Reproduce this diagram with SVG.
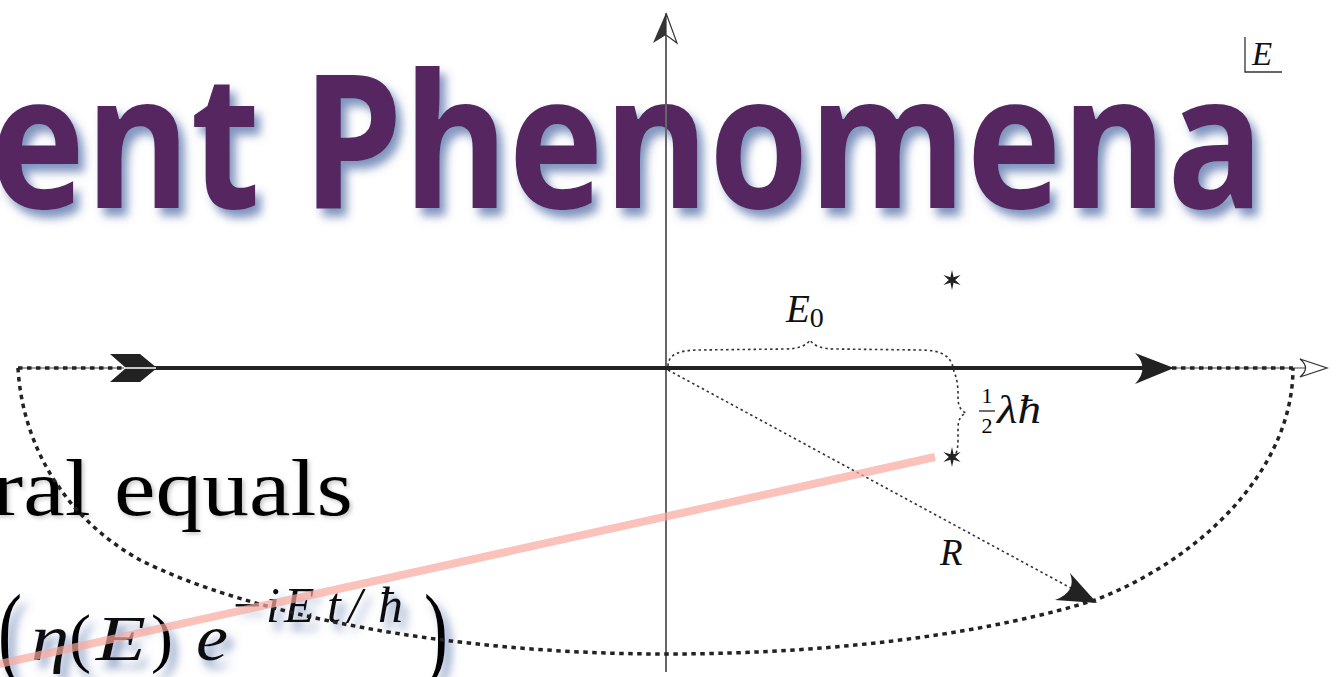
<svg xmlns="http://www.w3.org/2000/svg" width="1340" height="677" viewBox="0 0 1340 677">
<defs>
<style>
.title{font-family:"Open Sans","Liberation Sans",sans-serif;font-weight:bold;font-size:186px;fill:#54265f}
.body{font-family:"Liberation Serif","DejaVu Serif",serif;fill:#000}
.math{font-family:"Liberation Serif","DejaVu Serif",serif;font-style:italic;fill:#111}
.up{font-style:normal}
.dot{fill:none;stroke:#222;stroke-width:3.5;stroke-dasharray:4.5 4.5}
.fine{fill:none;stroke:#333;stroke-width:1.6;stroke-dasharray:2.5 3}
</style>
<filter id="sh" x="-10%" y="-20%" width="120%" height="150%">
<feGaussianBlur in="SourceAlpha" stdDeviation="5"/>
<feOffset dx="6" dy="8" result="b"/>
<feFlood flood-color="#5470a8" flood-opacity="0.75"/>
<feComposite in2="b" operator="in" result="s"/>
<feMerge><feMergeNode in="s"/><feMergeNode in="SourceGraphic"/></feMerge>
</filter>
<filter id="sh2" x="-10%" y="-20%" width="120%" height="150%">
<feGaussianBlur in="SourceAlpha" stdDeviation="2"/>
<feOffset dx="2" dy="2" result="b"/>
<feFlood flood-color="#888" flood-opacity="0.5"/>
<feComposite in2="b" operator="in" result="s"/>
<feMerge><feMergeNode in="s"/><feMergeNode in="SourceGraphic"/></feMerge>
</filter>
<path id="star" d="M0,-10 L1.6,-2.8 L8.7,-5 L3.2,0 L8.7,5 L1.6,2.8 L0,10 L-1.6,2.8 L-8.7,5 L-3.2,0 L-8.7,-5 L-1.6,-2.8 Z" fill="#222"/>
</defs>
<rect width="1340" height="677" fill="#fff"/>

<g id="slide-text">
<text class="title" x="-10" y="208" textLength="1274" lengthAdjust="spacingAndGlyphs" filter="url(#sh)">ent Phenomena</text>
<text class="body" x="-8" y="515" font-size="80" textLength="361" lengthAdjust="spacingAndGlyphs" filter="url(#sh2)">ral equals</text>
<g id="equation" filter="url(#sh)">
<text class="body" x="-2" y="666" font-size="104" textLength="24" lengthAdjust="spacingAndGlyphs">(</text>
<text class="math" x="31" y="660" font-size="66" textLength="38" lengthAdjust="spacingAndGlyphs">η</text>
<text class="body" x="69" y="660" font-size="66" textLength="22" lengthAdjust="spacingAndGlyphs">(</text>
<text class="math" x="96" y="660" font-size="64" textLength="50" lengthAdjust="spacingAndGlyphs">E</text>
<text class="body" x="151" y="660" font-size="66" textLength="22" lengthAdjust="spacingAndGlyphs">)</text>
<text class="math" x="196" y="660" font-size="66" textLength="32" lengthAdjust="spacingAndGlyphs">e</text>
<text class="math" y="622" font-size="50"><tspan class="up" x="233">−</tspan><tspan x="266">i</tspan><tspan x="284">E</tspan><tspan x="327">t</tspan><tspan x="348">/</tspan><tspan x="378">ħ</tspan></text>
<text class="body" x="424" y="666" font-size="104" textLength="24" lengthAdjust="spacingAndGlyphs">)</text>
</g>
</g>

<g id="connectors">
<line x1="18" y1="368" x2="1324" y2="368" stroke="#444" stroke-width="1.2"/>
<line x1="666" y1="672" x2="666" y2="30" stroke="#666" stroke-width="2"/>
<path class="dot" d="M18,368 C22,440 60,515 140,560 C250,615 450,654 666,654 C850,654 1000,630 1095,600 C1200,560 1293,470 1293,368"/>
<line class="dot" x1="18" y1="368" x2="150" y2="368"/>
<line class="dot" x1="1172" y1="368" x2="1293" y2="368"/>
<line x1="150" y1="368" x2="1150" y2="368" stroke="#222" stroke-width="4"/>
<path d="M110,354 L140,354 L157,368 L140,382 L110,382 L126,368 Z" fill="#222"/>
<line x1="124" y1="368" x2="156" y2="368" stroke="#fff" stroke-width="1.5"/>
<path d="M1174,368 L1135,353 Q1150,368 1135,384 Z" fill="#222"/>
<path d="M1300,359 L1327,368 L1300,377 Q1311,368 1300,359 Z" fill="#fff" stroke="#333" stroke-width="1.3"/>
<path d="M666,13 L653,43 L666,35 Z" fill="#333"/>
<path d="M666,13 L677,43 L666,35 Z" fill="#fff" stroke="#333" stroke-width="1.2"/>
<line class="fine" x1="668" y1="370" x2="1080" y2="593"/>
<path d="M1097,603 L1070,573 Q1077,592 1055,600 Z" fill="#222"/>
<path class="fine" d="M668,366 C668,354 680,350 700,350 L785,349 C798,349 806,346 810,340 C814,346 822,349 835,349 L920,350 C942,350 952,356 954,372 C958,380 958,390 958,398 C958,406 961,411 966,413 C961,415 958,420 958,428 L958,440 C958,450 956,455 953,458"/>
<line x1="-5" y1="665" x2="935" y2="457" stroke="#f8a89c" stroke-opacity="0.7" stroke-width="8"/>
</g>

<g id="poles">
<use href="#star" x="952" y="280"/>
<use href="#star" x="952" y="457"/>
</g>

<g id="labels">
<text class="math" x="786" y="322" font-size="39">E<tspan class="up" font-size="28" dy="5">0</tspan></text>
<g id="half-lambda-hbar">
<text class="body" x="987" y="403" font-size="22" text-anchor="middle">1</text>
<line x1="979" y1="411" x2="995" y2="411" stroke="#111" stroke-width="1.2"/>
<text class="body" x="987" y="433" font-size="22" text-anchor="middle">2</text>
<text class="math" x="997" y="423" font-size="40" textLength="44" lengthAdjust="spacingAndGlyphs">λħ</text>
</g>
<text class="math" x="940" y="565" font-size="37">R</text>
<g id="E-box">
<text class="math" x="1252" y="65" font-size="33">E</text>
<polyline points="1245,37 1245,72 1282,72" fill="none" stroke="#333" stroke-width="1.3"/>
</g>
</g>
</svg>
